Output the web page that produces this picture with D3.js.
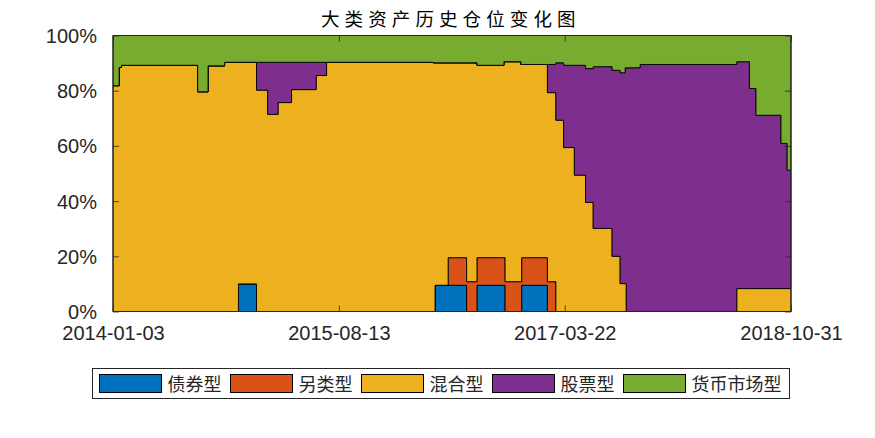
<!DOCTYPE html>
<html>
<head>
<meta charset="utf-8">
<script src="https://cdn.jsdelivr.net/npm/d3@7"></script>
<style>
  html, body { margin: 0; padding: 0; background: #fff; }
  svg { display: block; }
</style>
</head>
<body>
<svg id="chart" width="875" height="438"></svg>
<script>
// ---- data ----
const seriesNames = ["债券型", "另类型", "混合型", "股票型", "货币市场型"];
const seriesColors = ["#0072BD", "#D95319", "#EDB120", "#7E2F8E", "#77AC30"];
const dates = [
  "2014-01-03","2014-01-19","2014-01-25","2014-08-11","2014-09-07","2014-10-20",
  "2014-11-25","2015-01-11","2015-02-09","2015-03-08","2015-04-12","2015-06-15",
  "2015-07-12","2016-04-14","2016-04-19","2016-05-23","2016-07-10","2016-08-06",
  "2016-10-15","2016-10-18","2016-11-28","2016-11-30","2017-02-05","2017-02-27",
  "2017-03-19","2017-04-16","2017-05-15","2017-06-04","2017-07-23","2017-08-13",
  "2017-08-26","2017-08-29","2017-10-04","2018-06-12","2018-07-15","2018-08-01",
  "2018-10-05","2018-10-21","2018-10-31"
];
const bond = [0,0,0,0,0,0, 10,0,0,0,0,0, 0,0,9.5,9.5,0,9.5, 9.5,0,0,9.5,0,0, 0,0,0,0,0,0, 0,0,0,0,0,0, 0,0,0];
const alt  = [0,0,0,0,0,0, 0,0,0,0,0,0, 0,0,0,10,10.8,10, 10,10.8,10.8,10,10.8,0, 0,0,0,0,0,0, 0,0,0,0,0,0, 0,0,0];
const mixed = [81.8,88.4,89.2,79.6,89.0,90.3, 80.3,80.2,71.4,75.7,80.4,85.5,
  90.3,90.1,80.6,70.6,79.3,69.7, 71.0,79.7,78.7,70.0,68.5,69.3,
  59.4,49.4,39.5,30.1,20.0,10.1, 10.1,0,0,8.3,8.3,8.3, 8.3,8.3,8.3];
const stock = [0,0,0,0,0,0, 0,10.1,18.9,14.6,9.9,4.8,
  0,0,0,0,0,0, 0,0,0,0,10.2,20.8,
  29.8,39.8,48.5,58.6,67.4,76.4, 78.2,88.3,89.5,82.2,72.5,62.8, 52.6,42.9,42.9];
const money = [18.2,11.6,10.8,20.4,11.0,9.7, 9.7,9.7,9.7,9.7,9.7,9.7,
  9.7,9.9,9.9,9.9,9.9,10.8, 9.5,9.5,10.5,10.5,10.5,9.9,
  10.8,10.8,12.0,11.3,12.6,13.5, 11.7,11.7,10.5,9.5,19.2,28.9, 39.1,48.8,48.8];
const xTickLabels = ["2014-01-03","2015-08-13","2017-03-22","2018-10-31"];
const yTickValues = [0,20,40,60,80,100];
const titleText = "大类资产历史仓位变化图";

// ---- build table ----
const parse = d3.timeParse("%Y-%m-%d");
const allSeries = [bond, alt, mixed, stock, money];
const keys = seriesNames;
const table = dates.map((d, i) => {
  const row = { date: parse(d) };
  keys.forEach((k, j) => row[k] = allSeries[j][i]);
  return row;
});

const svg = d3.select("#chart");
const L = 113, R = 791, T = 35.5, B = 311.5;
const axisColor = "#262626";

const x = d3.scaleTime().domain([parse("2014-01-03"), parse("2018-10-31")]).range([L, R]);
const y = d3.scaleLinear().domain([0, 100]).range([B, T]);

const stacked = d3.stack().keys(keys)(table);
const area = d3.area()
  .curve(d3.curveStepAfter)
  .x(d => x(d.data.date))
  .y0(d => y(d[0]))
  .y1(d => y(d[1]));

svg.append("g").selectAll("path").data(stacked).join("path")
  .attr("d", area)
  .attr("fill", (d, i) => seriesColors[i])
  .attr("stroke", "#000")
  .attr("stroke-width", 0.9)
  .attr("stroke-linejoin", "miter");

// ---- axes ----
const tickLen = 6;
const xTicks = xTickLabels.map(parse);
const fontLat = "'Liberation Sans', Arial, Helvetica, sans-serif";

const xAxisB = d3.axisBottom(x).tickValues(xTicks).tickFormat(d3.timeFormat("%Y-%m-%d"))
  .tickSizeInner(-tickLen).tickSizeOuter(0).tickPadding(14);
const gxB = svg.append("g").attr("transform", `translate(0,${B})`).call(xAxisB);
const xAxisT = d3.axisTop(x).tickValues(xTicks).tickFormat("").tickSizeInner(-tickLen).tickSizeOuter(0);
const gxT = svg.append("g").attr("transform", `translate(0,${T})`).call(xAxisT);

const yAxisL = d3.axisLeft(y).tickValues(yTickValues).tickFormat(d => d + "%")
  .tickSizeInner(-tickLen).tickSizeOuter(0).tickPadding(16);
const gyL = svg.append("g").attr("transform", `translate(${L},0)`).call(yAxisL);
const yAxisR = d3.axisRight(y).tickValues(yTickValues).tickFormat("").tickSizeInner(-tickLen).tickSizeOuter(0);
const gyR = svg.append("g").attr("transform", `translate(${R},0)`).call(yAxisR);

[gxB, gxT, gyL, gyR].forEach(g => {
  g.select(".domain").remove();
  g.selectAll(".tick line").attr("stroke", axisColor).attr("stroke-width", 0.8);
  g.selectAll(".tick text").attr("fill", axisColor).style("font-family", fontLat).style("font-size", "20px");
});
gxB.selectAll(".tick text").attr("dy", null).attr("y", null)
  .attr("transform", "translate(0,28.5)");
gyL.selectAll(".tick text").attr("dy", "0.35em");

// frame
svg.append("rect").attr("x", L).attr("y", T).attr("width", R - L).attr("height", B - T)
  .attr("fill", "none").attr("stroke", axisColor).attr("stroke-width", 1);

// ---- title ----
svg.append("text")
  .attr("x", 321).attr("y", 26)
  .style("font-family", "'Noto Sans CJK SC', sans-serif")
  .style("font-size", "18.5px")
  .style("letter-spacing", "5.1px")
  .attr("fill", "#000")
  .text(titleText);

// ---- legend ----
const lg = svg.append("g");
const legBox = lg.append("rect").attr("x", 92.5).attr("y", 368.5).attr("height", 30)
  .attr("fill", "#fff").attr("stroke", axisColor).attr("stroke-width", 1);
let lx = 99.5;
keys.forEach((k, i) => {
  lg.append("rect").attr("x", lx).attr("y", 374.5).attr("width", 62).attr("height", 18)
    .attr("fill", seriesColors[i]).attr("stroke", "#000").attr("stroke-width", 1);
  const t = lg.append("text").attr("x", lx + 68).attr("y", 390.5)
    .style("font-family", "'Noto Sans CJK SC', sans-serif")
    .style("font-size", "18px")
    .attr("fill", axisColor)
    .text(k);
  const w = t.node().getComputedTextLength();
  lx = lx + 68 + w + 9;
});
legBox.attr("width", lx - 1 - 92.5);
</script>
</body>
</html>
